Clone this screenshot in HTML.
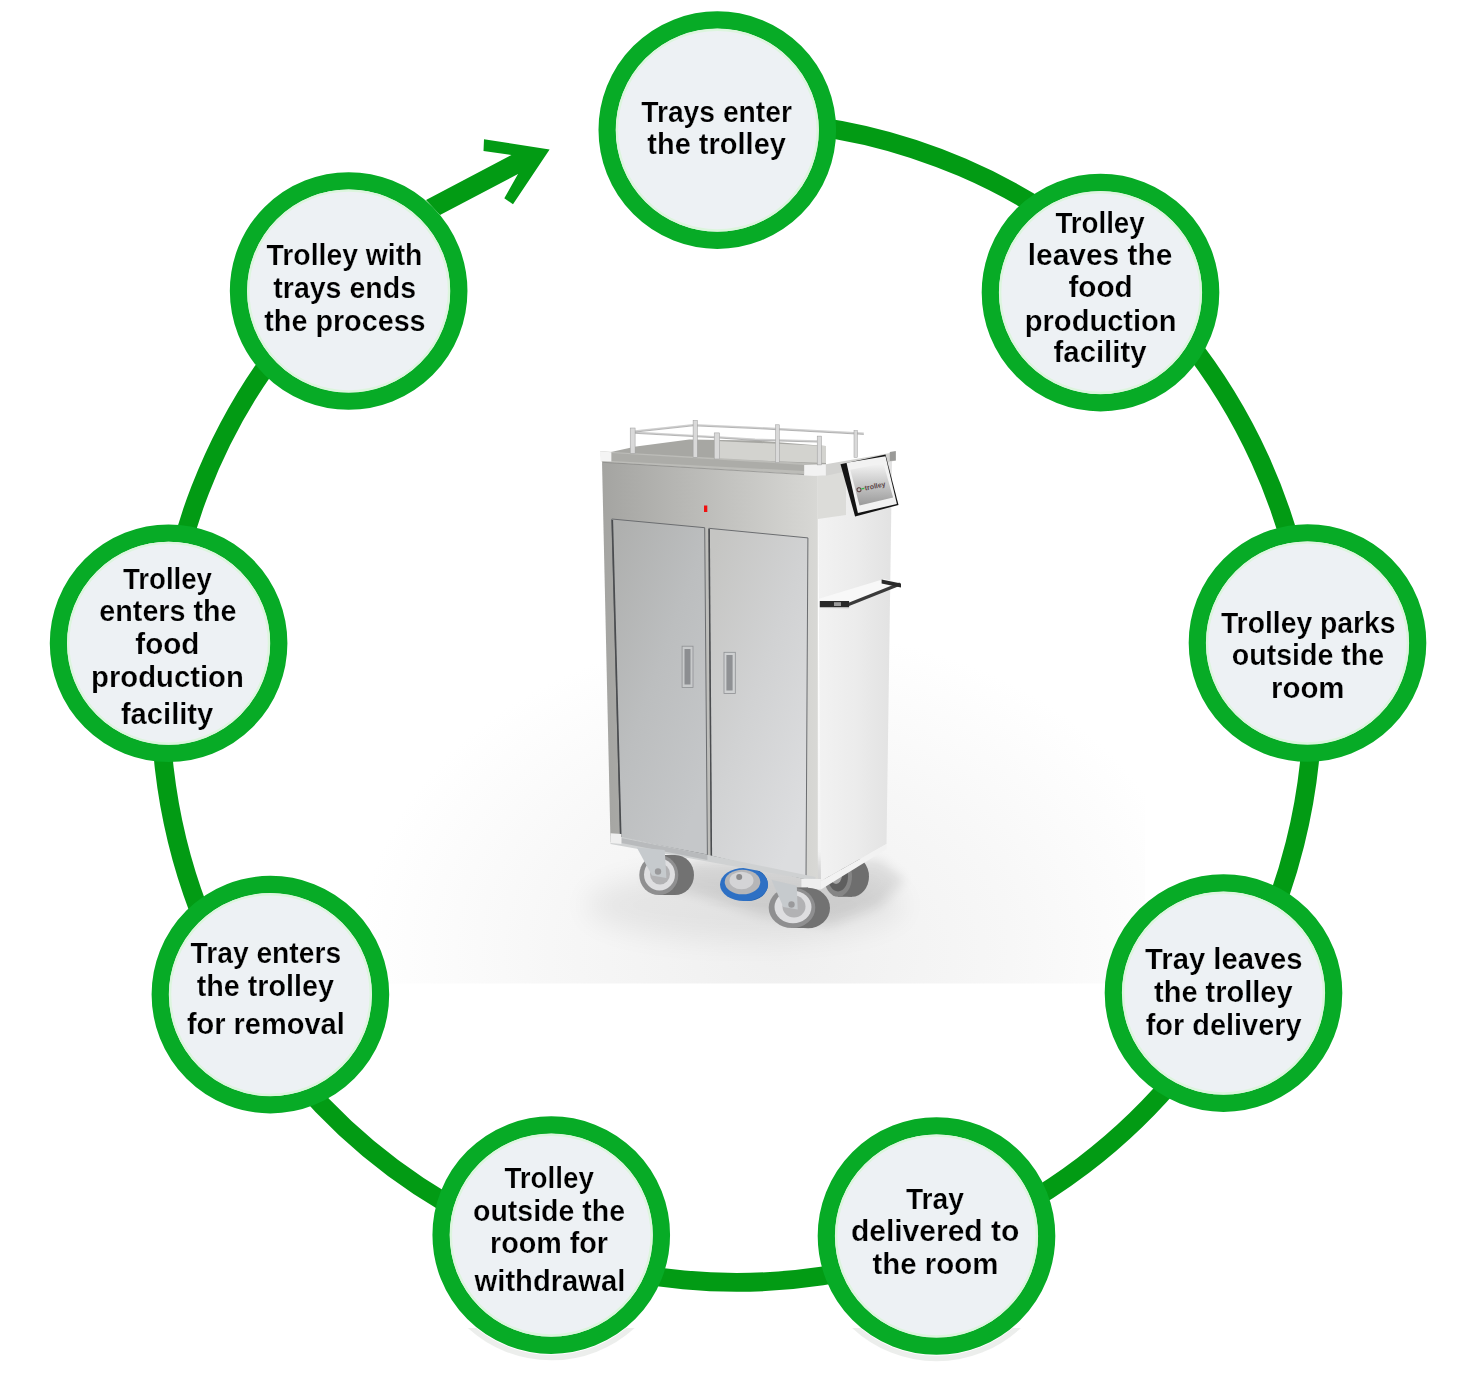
<!DOCTYPE html>
<html><head><meta charset="utf-8"><style>
html,body{margin:0;padding:0;background:#fff;}
svg{display:block;}
text{font-family:"Liberation Sans",sans-serif;font-weight:bold;font-size:28.8px;fill:#000;stroke:#edf1f4;stroke-width:0.22px;}
</style></head><body>
<svg width="1476" height="1374" viewBox="0 0 1476 1374">
<rect width="1476" height="1374" fill="#fff"/>
<clipPath id="cpBot"><rect x="0" y="1328" width="1476" height="46"/></clipPath>
<defs>
  <linearGradient id="gFront" x1="0" y1="0" x2="1" y2="0">
    <stop offset="0" stop-color="#a4a4a1"/>
    <stop offset="0.5" stop-color="#bebebb"/>
    <stop offset="1" stop-color="#d8d8d5"/>
  </linearGradient>
  <linearGradient id="gDoorL" x1="0" y1="0.1" x2="0.7" y2="1">
    <stop offset="0" stop-color="#afb0af"/>
    <stop offset="0.5" stop-color="#bcbebf"/>
    <stop offset="1" stop-color="#c5c7c9"/>
  </linearGradient>
  <linearGradient id="gDoorR" x1="0" y1="0.1" x2="0.7" y2="1">
    <stop offset="0" stop-color="#c5c5c3"/>
    <stop offset="0.5" stop-color="#d1d2d3"/>
    <stop offset="1" stop-color="#dcdddf"/>
  </linearGradient>
  <linearGradient id="gSide" x1="0" y1="0" x2="1" y2="0">
    <stop offset="0" stop-color="#f2f2f2"/>
    <stop offset="0.5" stop-color="#ececec"/>
    <stop offset="1" stop-color="#e2e2e2"/>
  </linearGradient>
  <linearGradient id="gScreen" x1="0" y1="0" x2="0" y2="1">
    <stop offset="0" stop-color="#f4f4f4"/>
    <stop offset="1" stop-color="#9a9a9a"/>
  </linearGradient>
  <radialGradient id="gShadow" cx="0.5" cy="0.5" r="0.5">
    <stop offset="0" stop-color="#000" stop-opacity="0.22"/>
    <stop offset="1" stop-color="#000" stop-opacity="0"/>
  </radialGradient>
  <radialGradient id="gHaze" cx="0.5" cy="0.55" r="0.5">
    <stop offset="0" stop-color="#000" stop-opacity="0.035"/>
    <stop offset="1" stop-color="#000" stop-opacity="0"/>
  </radialGradient>
  <radialGradient id="gFloor" cx="0.5" cy="0.5" r="0.5">
    <stop offset="0" stop-color="#efefef"/>
    <stop offset="0.55" stop-color="#f7f7f7"/>
    <stop offset="1" stop-color="#ffffff"/>
  </radialGradient>
  <filter id="blur14" x="-50%" y="-50%" width="200%" height="200%"><feGaussianBlur stdDeviation="14"/></filter>
  <filter id="blur6" x="-50%" y="-50%" width="200%" height="200%"><feGaussianBlur stdDeviation="6"/></filter>
</defs>
<!-- photo floor -->
<clipPath id="cpPhoto"><rect x="300" y="380" width="845" height="603.5"/></clipPath>
<g clip-path="url(#cpPhoto)">
  <ellipse cx="780" cy="950" rx="420" ry="320" fill="url(#gFloor)"/>
  <ellipse cx="745" cy="905" rx="160" ry="36" fill="#000" opacity="0.06" filter="url(#blur14)"/>
  <polygon points="640,880 700,895 760,915 830,925 880,905 905,880 880,860 700,860" fill="#000" opacity="0.09" filter="url(#blur6)"/>
</g>
<!-- wheels back -->
<g>
  <!-- rear right wheel D -->
  <ellipse cx="852" cy="876.5" rx="17" ry="20.3" fill="#6e6e6e"/>
  <rect x="838" y="856.2" width="14" height="40.6" fill="#6e6e6e"/>
  <ellipse cx="838" cy="876.5" rx="14" ry="20.3" fill="#858585"/>
  <ellipse cx="838" cy="876.5" rx="10" ry="15" fill="#5e5e5e"/>
  <ellipse cx="836" cy="875" rx="6" ry="9" fill="#a5a5a5"/>
  <!-- blue wheel B -->
  <ellipse cx="748" cy="884.5" rx="20" ry="16.5" fill="#1f5fae"/>
  <ellipse cx="744" cy="884.5" rx="24" ry="16.5" fill="#2e70c4"/>
  <ellipse cx="742.5" cy="882" rx="17.8" ry="12.3" fill="#b6b6b8"/>
  <ellipse cx="741.5" cy="880.5" rx="12" ry="8.8" fill="#d4d4d6"/>
  <circle cx="739.2" cy="877" r="3" fill="#8a8a8c"/>
</g>

<!-- side face -->
<polygon points="817.8,475.7 892,460.5 886.5,844 821,881" fill="url(#gSide)"/>
<!-- tablet mount shadow on side -->
<polygon points="817.8,475.7 846,470 846,515 817.8,519" fill="#dcdcd9"/>
<!-- front face -->
<polygon points="602,461.6 817.8,475.7 817.8,881 610.5,842" fill="url(#gFront)"/>
<!-- interior back wall above rim -->
<polygon points="611,452 636,446.4 689.3,439.4 755,440.5 826,446 826,465 611,455" fill="#a7a7a3"/>
<polygon points="716,441 826,446 826,463 716,459" fill="#d3d3cf"/>
<!-- top rim front -->
<polygon points="600,451.3 825.9,464.3 825.9,475.7 601.9,462" fill="#bcbcb8"/>
<polygon points="611.3,453 804.2,464.9 804.2,471 611.3,461" fill="#acaca8"/>
<line x1="603" y1="462.3" x2="804.2" y2="474.6" stroke="#8d8d8a" stroke-width="0.8"/>
<!-- top rim side -->
<polygon points="825.9,464.3 895.8,451.9 895.8,460.5 825.9,475.7" fill="#d2d2d0"/>
<!-- bumpers top -->
<polygon points="599.9,451.3 611.3,452.2 611.3,461.6 600.5,461" fill="#f4f4f4"/>
<polygon points="804.2,464.9 825.9,464.3 825.9,475.7 804.2,475.5" fill="#f2f2f2"/>
<polygon points="889.8,451.9 895.8,451 895.8,460.5 889.8,461" fill="#9a9a98"/>

<!-- doors -->
<polygon points="611.8,519 704.7,527.7 707.4,855 620.5,838" fill="url(#gDoorL)" stroke="#6b6d70" stroke-width="1"/>
<polygon points="708.8,528.3 807.9,537.9 806,879 711.2,856" fill="url(#gDoorR)" stroke="#6b6d70" stroke-width="1"/>
<line x1="612.3" y1="520" x2="620.8" y2="838" stroke="#4a4c4f" stroke-width="1.6"/>
<line x1="709.2" y1="529" x2="711.4" y2="856" stroke="#4a4c4f" stroke-width="1.4"/>
<!-- plinth -->
<polygon points="610.5,836 621.4,837 815.5,877 815.5,881 610.5,844" fill="#cfd1d2"/>
<polygon points="621.4,838 707.4,855 707.4,860 621.4,843" fill="#b8babc"/>
<polygon points="610.6,833.2 621.4,834 621.4,844 610.6,843" fill="#efefef"/>
<polygon points="801.4,878.8 820.9,879 820.9,889.6 801.4,889" fill="#efefef"/>
<polygon points="820.9,881 886.5,844 886.5,849 820.9,889.6" fill="#f2f2f2"/>

<!-- handles -->
<rect x="682.1" y="646.2" width="10.9" height="41.2" fill="#c8cacb" stroke="#8e9093" stroke-width="0.8"/>
<rect x="684.5" y="649" width="6" height="35.5" fill="#8c8e91"/>
<rect x="724" y="652.3" width="11.3" height="41.2" fill="#cfd1d2" stroke="#8e9093" stroke-width="0.8"/>
<rect x="726.4" y="655" width="6.2" height="35.5" fill="#8f9194"/>

<!-- red LED -->
<rect x="704" y="505.5" width="3.3" height="6.5" fill="#f01010"/>

<!-- side shelf -->
<polygon points="818,599 884,579 901,583 849,604 820,603" fill="#f8f8f8"/>
<polygon points="820,603 849,605 849,609 820,608" fill="#000" opacity="0.06"/>
<polyline points="846,605.5 900,584" fill="none" stroke="#3a3a3a" stroke-width="3.4"/>
<rect x="819.8" y="601" width="29.3" height="6.2" fill="#2a2a2a"/>
<rect x="834" y="602.2" width="7" height="3.8" fill="#9a9a9a"/>
<polygon points="881.6,579.5 901,583.5 901,587.5 881.6,583.5" fill="#2a2a2a"/>
<!-- rails -->
<g stroke="#cfcfcf" stroke-width="1.6" fill="none">
  <polyline points="633,431.3 693.1,424.8 755,427.5 863.8,433.4"/>
  <polyline points="635,432.3 714.2,436.7 755,439.4 817.2,441"/>
</g>
<g stroke="#8a8a8a" stroke-width="0.6" fill="none">
  <polyline points="633,432.3 693.1,425.8 755,428.5 863.8,434.4"/>
  <polyline points="635,433.3 714.2,437.7 755,440.4 817.2,442"/>
</g>
<g fill="#d9d9d9" stroke="#9a9a9a" stroke-width="0.5">
  <rect x="630.2" y="428" width="4.9" height="25.5"/>
  <rect x="693.1" y="420.4" width="4.3" height="36.9"/>
  <rect x="714.2" y="432.9" width="5.5" height="26.1"/>
  <rect x="775.5" y="424.8" width="3.8" height="37.9"/>
  <rect x="817.2" y="436.1" width="4.3" height="28.8"/>
  <rect x="854" y="430.7" width="3.3" height="26.6"/>
</g>

<!-- tablet -->
<polygon points="840.5,464.3 885.5,454.6 898.5,505 855.1,516.4" fill="#141414"/>
<polygon points="846.5,462.7 885.5,456.2 896.9,503.9 857.9,513.1" fill="#f2f2f2"/>
<polygon points="850.3,469.7 883.3,463.2 893.1,497.4 859.5,505.5" fill="url(#gScreen)"/>
<g transform="rotate(-12 872 486)"><circle cx="858.5" cy="487" r="2" fill="none" stroke="#5a3a3a" stroke-width="1"/><rect x="861" y="486" width="3" height="1.3" fill="#2fb84a"/><text x="864.5" y="489" style="font-family:'Liberation Sans',sans-serif;font-size:7px;font-weight:bold;fill:#5a4446;stroke:none">trolley</text></g>

<!-- front wheels -->
<g>
  <!-- wheel A front-left -->
  <ellipse cx="675" cy="875" rx="19" ry="20" fill="#727272"/>
  <rect x="658.8" y="855" width="16" height="40" fill="#727272"/>
  <ellipse cx="658.8" cy="875" rx="19.5" ry="20" fill="#8f8f90"/>
  <ellipse cx="659.5" cy="874.5" rx="15.5" ry="16" fill="#dedee0"/>
  <ellipse cx="660" cy="874" rx="10" ry="10.5" fill="#b2b2b4"/>
  <polygon points="636.8,847.6 664.7,850 666.4,878.1 652,875.6" fill="#c6cacd"/>
  <circle cx="658" cy="871.5" r="3.2" fill="#9a9a9c"/>
  <!-- wheel C front-right -->
  <ellipse cx="808" cy="908" rx="22" ry="20.3" fill="#727272"/>
  <rect x="792" y="887.4" width="16" height="40.6" fill="#727272"/>
  <ellipse cx="792" cy="907.7" rx="23.3" ry="20.3" fill="#8f8f90"/>
  <ellipse cx="793" cy="907" rx="18.5" ry="16.3" fill="#dedee0"/>
  <ellipse cx="794" cy="906.5" rx="11.5" ry="11" fill="#b2b2b4"/>
  <polygon points="771.4,879.8 796.8,885.7 797.7,909.4 783.3,906.9" fill="#c6cacd"/>
  <circle cx="791.5" cy="904.5" r="3.2" fill="#9a9a9c"/>
</g>

<path d="M717.0,121.3 A576,580.7 0 1 1 339.3,281.1" fill="none" stroke="#029b14" stroke-width="18.8"/>
<polygon points="484,139.3 549.6,149.5 513,204.3 504.3,198.3 518,174 440,215 426,200 511.5,155 483.5,151" fill="#029b14"/>
<g clip-path="url(#cpBot)"><circle cx="936.5" cy="1237.5" r="121" fill="none" stroke="#c9cec9" stroke-width="5.5" opacity="0.35"/></g>
<g clip-path="url(#cpBot)"><circle cx="551.25" cy="1236.6" r="121" fill="none" stroke="#c9cec9" stroke-width="5.5" opacity="0.35"/></g>
<circle cx="717.3" cy="130.1" r="110.1" fill="#edf1f4" stroke="#07ab26" stroke-width="17.4"/>
<circle cx="717.3" cy="130.1" r="100.4" fill="none" stroke="#dcf5dd" stroke-width="2.4"/>
<circle cx="1100.5" cy="292.6" r="110.1" fill="#edf1f4" stroke="#07ab26" stroke-width="17.4"/>
<circle cx="1100.5" cy="292.6" r="100.4" fill="none" stroke="#dcf5dd" stroke-width="2.4"/>
<circle cx="1307.5" cy="643" r="110.1" fill="#edf1f4" stroke="#07ab26" stroke-width="17.4"/>
<circle cx="1307.5" cy="643" r="100.4" fill="none" stroke="#dcf5dd" stroke-width="2.4"/>
<circle cx="1223.5" cy="993.1" r="110.1" fill="#edf1f4" stroke="#07ab26" stroke-width="17.4"/>
<circle cx="1223.5" cy="993.1" r="100.4" fill="none" stroke="#dcf5dd" stroke-width="2.4"/>
<circle cx="936.5" cy="1236" r="110.1" fill="#edf1f4" stroke="#07ab26" stroke-width="17.4"/>
<circle cx="936.5" cy="1236" r="100.4" fill="none" stroke="#dcf5dd" stroke-width="2.4"/>
<circle cx="551.25" cy="1235.1" r="110.1" fill="#edf1f4" stroke="#07ab26" stroke-width="17.4"/>
<circle cx="551.25" cy="1235.1" r="100.4" fill="none" stroke="#dcf5dd" stroke-width="2.4"/>
<circle cx="270.4" cy="994.6" r="110.1" fill="#edf1f4" stroke="#07ab26" stroke-width="17.4"/>
<circle cx="270.4" cy="994.6" r="100.4" fill="none" stroke="#dcf5dd" stroke-width="2.4"/>
<circle cx="168.6" cy="643.25" r="110.1" fill="#edf1f4" stroke="#07ab26" stroke-width="17.4"/>
<circle cx="168.6" cy="643.25" r="100.4" fill="none" stroke="#dcf5dd" stroke-width="2.4"/>
<circle cx="348.65" cy="291" r="110.1" fill="#edf1f4" stroke="#07ab26" stroke-width="17.4"/>
<circle cx="348.65" cy="291" r="100.4" fill="none" stroke="#dcf5dd" stroke-width="2.4"/>
<g opacity="0.999">
<text x="641.20" y="122" textLength="150.80" lengthAdjust="spacingAndGlyphs">Trays enter</text>
<text x="647.30" y="154" textLength="138.60" lengthAdjust="spacingAndGlyphs">the trolley</text>
<text x="1055.40" y="232.8" textLength="89.30" lengthAdjust="spacingAndGlyphs">Trolley</text>
<text x="1027.80" y="265" textLength="144.50" lengthAdjust="spacingAndGlyphs">leaves the</text>
<text x="1068.40" y="297.1" textLength="64.30" lengthAdjust="spacingAndGlyphs">food</text>
<text x="1024.80" y="330.5" textLength="151.80" lengthAdjust="spacingAndGlyphs">production</text>
<text x="1053.60" y="362.1" textLength="92.90" lengthAdjust="spacingAndGlyphs">facility</text>
<text x="1220.90" y="632.9" textLength="174.70" lengthAdjust="spacingAndGlyphs">Trolley parks</text>
<text x="1231.80" y="665.3" textLength="152.40" lengthAdjust="spacingAndGlyphs">outside the</text>
<text x="1271.00" y="697.6" textLength="73.50" lengthAdjust="spacingAndGlyphs">room</text>
<text x="1145.10" y="969.4" textLength="157.50" lengthAdjust="spacingAndGlyphs">Tray leaves</text>
<text x="1154.10" y="1001.8" textLength="138.50" lengthAdjust="spacingAndGlyphs">the trolley</text>
<text x="1145.70" y="1034.6" textLength="155.90" lengthAdjust="spacingAndGlyphs">for delivery</text>
<text x="905.90" y="1209" textLength="58.00" lengthAdjust="spacingAndGlyphs">Tray</text>
<text x="850.90" y="1241.1" textLength="168.50" lengthAdjust="spacingAndGlyphs">delivered to</text>
<text x="872.50" y="1274" textLength="125.90" lengthAdjust="spacingAndGlyphs">the room</text>
<text x="504.40" y="1188.3" textLength="89.50" lengthAdjust="spacingAndGlyphs">Trolley</text>
<text x="473.00" y="1220.7" textLength="152.00" lengthAdjust="spacingAndGlyphs">outside the</text>
<text x="490.00" y="1253.3" textLength="118.00" lengthAdjust="spacingAndGlyphs">room for</text>
<text x="474.60" y="1290.7" textLength="150.80" lengthAdjust="spacingAndGlyphs">withdrawal</text>
<text x="190.60" y="963.2" textLength="150.50" lengthAdjust="spacingAndGlyphs">Tray enters</text>
<text x="196.70" y="995.9" textLength="137.30" lengthAdjust="spacingAndGlyphs">the trolley</text>
<text x="186.90" y="1033.7" textLength="157.90" lengthAdjust="spacingAndGlyphs">for removal</text>
<text x="122.90" y="588.8" textLength="89.10" lengthAdjust="spacingAndGlyphs">Trolley</text>
<text x="99.30" y="620.9" textLength="137.30" lengthAdjust="spacingAndGlyphs">enters the</text>
<text x="135.30" y="653.7" textLength="64.00" lengthAdjust="spacingAndGlyphs">food</text>
<text x="91.10" y="687.1" textLength="152.70" lengthAdjust="spacingAndGlyphs">production</text>
<text x="120.90" y="723.8" textLength="92.40" lengthAdjust="spacingAndGlyphs">facility</text>
<text x="266.60" y="265.4" textLength="155.80" lengthAdjust="spacingAndGlyphs">Trolley with</text>
<text x="273.30" y="298.2" textLength="142.70" lengthAdjust="spacingAndGlyphs">trays ends</text>
<text x="264.30" y="331.1" textLength="161.30" lengthAdjust="spacingAndGlyphs">the process</text>
</g>
</svg>
</body></html>
